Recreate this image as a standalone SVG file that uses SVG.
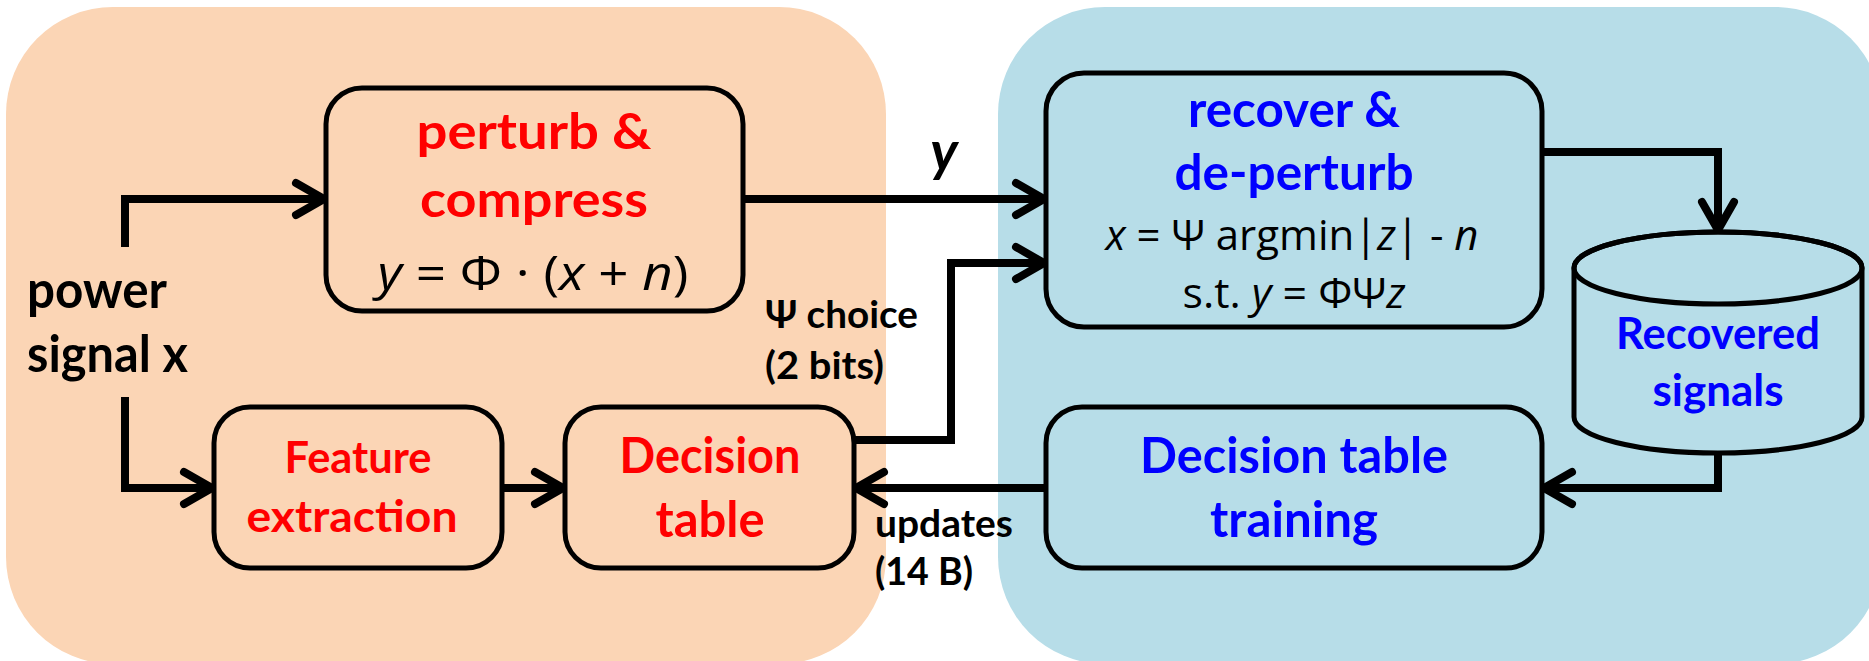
<svg xmlns="http://www.w3.org/2000/svg" width="1869" height="661" viewBox="0 0 1869 661">
  <defs>
    <style>
      .panel-tx { fill: #FBD5B5; }
      .panel-rx { fill: #B7DDE8; }
      .box { stroke: #000; stroke-width: 5; }
      .box-tx { fill: #FBD5B5; }
      .box-rx { fill: #B7DDE8; }
      .t { font-family: Lato, "Open Sans", "Noto Sans", sans-serif; text-anchor: middle; }
      .b { font-weight: bold; }
      .red { fill: #FF0000; }
      .blue { fill: #0000FF; }
      .blk { fill: #000; }
      .eq { font-family: "Open Sans", "Noto Sans", Lato, sans-serif; fill: #000; text-anchor: middle; }
      .side { font-family: Lato, "Open Sans", "Noto Sans", sans-serif; font-weight: bold; fill: #000; }
      .wire { fill: none; stroke: #000; stroke-width: 8; stroke-linejoin: miter; stroke-linecap: butt; }
    </style>
    <marker id="arrow" markerUnits="userSpaceOnUse" viewBox="-36 -24 42 48" markerWidth="42" markerHeight="48" refX="2" refY="0" orient="auto" overflow="visible">
      <path d="M-28,-16 L0,0 L-28,16" fill="none" stroke="#000" stroke-width="8" stroke-linecap="round" stroke-linejoin="round"/>
    </marker>
  </defs>

  <!-- sensor side / server side backgrounds -->
  <rect class="panel-tx" x="6" y="7" width="880" height="657" rx="107" ry="107"/>
  <rect class="panel-rx" x="998" y="7" width="884" height="657" rx="107" ry="107"/>

  <!-- connectors -->
  <g id="connectors">
    <path class="wire" d="M125,247 V199 H326" marker-end="url(#arrow)"/>
    <path class="wire" d="M125,397 V488 H214" marker-end="url(#arrow)"/>
    <path class="wire" d="M502,488 H565" marker-end="url(#arrow)"/>
    <path class="wire" d="M743,199 H1046" marker-end="url(#arrow)"/>
    <path class="wire" d="M854,440 H951 V263 H1046" marker-end="url(#arrow)"/>
    <path class="wire" d="M1542,152 H1718 V232" marker-end="url(#arrow)"/>
    <path class="wire" d="M1718,453 V488 H1542" marker-end="url(#arrow)"/>
    <path class="wire" d="M1046,488 H854" marker-end="url(#arrow)"/>
  </g>

  <!-- free labels -->
  <g id="input-label">
    <text class="side" x="27" y="308" font-size="51" textLength="140" lengthAdjust="spacingAndGlyphs">power</text>
    <text class="side" x="27" y="372" font-size="51" textLength="161" lengthAdjust="spacingAndGlyphs">signal x</text>
  </g>
  <g id="y-label">
    <text class="t b blk" x="944" y="171" font-size="56" font-style="italic">y</text>
  </g>
  <g id="psi-label">
    <text class="side" x="765" y="328" font-size="38" textLength="153" lengthAdjust="spacingAndGlyphs">Ψ choice</text>
    <text class="side" x="765" y="379" font-size="38" textLength="119" lengthAdjust="spacingAndGlyphs">(2 bits)</text>
  </g>
  <g id="updates-label">
    <text class="side" x="875" y="537" font-size="38" textLength="138" lengthAdjust="spacingAndGlyphs">updates</text>
    <text class="side" x="875" y="585" font-size="38" textLength="98" lengthAdjust="spacingAndGlyphs">(14 B)</text>
  </g>

  <!-- nodes -->
  <g id="perturb-compress">
    <rect class="box box-tx" x="326" y="88" width="417" height="223" rx="36" ry="36"/>
    <text class="t b red" x="534" y="149" font-size="50" textLength="235" lengthAdjust="spacingAndGlyphs">perturb &amp;</text>
    <text class="t b red" x="534" y="217" font-size="50" textLength="228" lengthAdjust="spacingAndGlyphs">compress</text>
    <text class="eq" x="533" y="290" font-size="48" textLength="311" lengthAdjust="spacingAndGlyphs"><tspan font-style="italic">y</tspan> = Φ · (<tspan font-style="italic">x</tspan> + <tspan font-style="italic">n</tspan>)</text>
  </g>

  <g id="recover-deperturb">
    <rect class="box box-rx" x="1046" y="73" width="496" height="254" rx="38" ry="38"/>
    <text class="t b blue" x="1294" y="127" font-size="50" textLength="212" lengthAdjust="spacingAndGlyphs">recover &amp;</text>
    <text class="t b blue" x="1294" y="190" font-size="50" textLength="239" lengthAdjust="spacingAndGlyphs">de-perturb</text>
    <text class="eq" x="1292" y="250" font-size="42" textLength="373" lengthAdjust="spacingAndGlyphs"><tspan font-style="italic">x</tspan> = Ψ argmin|<tspan font-style="italic">z</tspan>| - <tspan font-style="italic">n</tspan></text>
    <text class="eq" x="1294" y="308" font-size="42" textLength="223" lengthAdjust="spacingAndGlyphs">s.t. <tspan font-style="italic">y</tspan> = ΦΨ<tspan font-style="italic">z</tspan></text>
  </g>

  <g id="recovered-signals">
    <path class="box box-rx" d="M1574,268 V417 A144,36 0 0 0 1862,417 V268 A144,36 0 0 0 1574,268 Z"/>
    <ellipse cx="1718" cy="268" rx="144" ry="36" fill="none" stroke="#000" stroke-width="5"/>
    <text class="t b blue" x="1718" y="349" font-size="44" textLength="204" lengthAdjust="spacingAndGlyphs">Recovered</text>
    <text class="t b blue" x="1718" y="406" font-size="44" textLength="131" lengthAdjust="spacingAndGlyphs">signals</text>
  </g>

  <g id="feature-extraction">
    <rect class="box box-tx" x="214" y="407" width="288" height="161" rx="36" ry="36"/>
    <text class="t b red" x="358" y="473" font-size="44" textLength="147" lengthAdjust="spacingAndGlyphs">Feature</text>
    <text class="t b red" x="352" y="532" font-size="44" textLength="211" lengthAdjust="spacingAndGlyphs">extraction</text>
  </g>

  <g id="decision-table">
    <rect class="box box-tx" x="565" y="407" width="289" height="161" rx="36" ry="36"/>
    <text class="t b red" x="710" y="473" font-size="49" textLength="181" lengthAdjust="spacingAndGlyphs">Decision</text>
    <text class="t b red" x="710" y="537" font-size="49" textLength="109" lengthAdjust="spacingAndGlyphs">table</text>
  </g>

  <g id="decision-table-training">
    <rect class="box box-rx" x="1046" y="407" width="496" height="161" rx="36" ry="36"/>
    <text class="t b blue" x="1294" y="473" font-size="49" textLength="308" lengthAdjust="spacingAndGlyphs">Decision table</text>
    <text class="t b blue" x="1294" y="537" font-size="49" textLength="168" lengthAdjust="spacingAndGlyphs">training</text>
  </g>
</svg>
